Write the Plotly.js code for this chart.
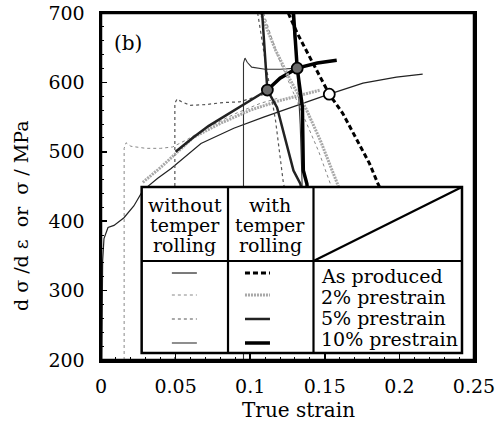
<!DOCTYPE html>
<html><head><meta charset="utf-8">
<script src="https://cdn.plot.ly/plotly-3.0.1.min.js"></script>
<style>body{margin:0;padding:0;background:#fff}#chart{width:501px;height:430px}</style>
</head><body><div id="chart"></div>
<script>
// ---- stress-strain curves (true strain, MPa) ----
const asProducedX = [0.0005, 0.0011, 0.002, 0.0047, 0.0087, 0.0154, 0.022, 0.028, 0.038, 0.047, 0.067, 0.089, 0.109, 0.1315, 0.1515, 0.1756, 0.198, 0.2156];
const asProducedY = [200, 343, 375, 391, 394, 405, 422, 444, 462, 476, 512, 534, 550, 567, 582, 599, 607.5, 612];
const pre2X = [0.0155, 0.0155, 0.0168, 0.02, 0.03, 0.04, 0.048, 0.058, 0.0715, 0.09, 0.107, 0.12];
const pre2Y = [200, 505, 513, 508, 505, 505, 507, 518, 535, 555, 570, 578];
const pre5X = [0.0495, 0.0495, 0.051, 0.054, 0.06, 0.07, 0.082, 0.093, 0.1065, 0.115];
const pre5Y = [200, 570, 576, 572, 567, 568, 571, 572, 581, 586];
const pre10X = [0.0955, 0.0955, 0.0965, 0.098, 0.101, 0.11, 0.12, 0.1315];
const pre10Y = [200, 628, 635, 629, 622, 619, 619, 620.5];
const tr2X = [0.028, 0.04, 0.062, 0.08, 0.1, 0.12, 0.147];
const tr2Y = [456, 477.5, 521, 541, 560, 574, 589];
const tr5X = [0.05, 0.062, 0.072, 0.082, 0.092, 0.1, 0.108, 0.1115];
const tr5Y = [500, 521, 537, 550, 563, 574, 585, 589];
const tr10X = [0.1115, 0.12, 0.1315, 0.145, 0.158];
const tr10Y = [589, 606, 620.5, 628, 632];
// ---- work-hardening rate curves dσ/dε (MPa) ----
const rateAsTRX = [0.1255, 0.1315, 0.140, 0.1469, 0.153, 0.162, 0.1716, 0.180, 0.1856, 0.19];
const rateAsTRY = [700, 671, 636, 607.5, 583, 555.5, 516.5, 483, 454, 435];
const rateTr2X = [0.107, 0.117, 0.127, 0.137, 0.147, 0.158, 0.161];
const rateTr2Y = [700, 646.5, 603, 564, 516.5, 454, 440];
const rateTr5X = [0.108, 0.1115, 0.118, 0.1235, 0.129, 0.1336, 0.135];
const rateTr5Y = [700, 589, 564, 516.5, 473, 454, 440];
const rateTr10X = [0.129, 0.1315, 0.135, 0.1356, 0.138, 0.1385];
const rateTr10Y = [700, 620.5, 564, 473, 454, 440];
const ratePre2X = [0.109, 0.118, 0.128, 0.138, 0.146, 0.1537, 0.156];
const ratePre2Y = [700, 640, 590, 540, 500, 454, 440];
const ratePre5X = [0.105, 0.110, 0.117, 0.1223, 0.124];
const ratePre5Y = [700, 632, 545, 454, 440];
const ratePre10X = [0.128, 0.1315, 0.1335, 0.1345, 0.135];
const ratePre10Y = [700, 620.5, 540, 454, 440];
// ---- intersection points ----
const filledPtX = [0.1115, 0.1315];
const filledPtY = [589, 620.5];
const openPtX = [0.153];
const openPtY = [583];
// ---- labels ----
const rowLabels = ['As produced', '2% prestrain', '5% prestrain', '10% prestrain'];
const headWithout = ['without', 'temper', 'rolling'];
const headWith = ['with', 'temper', 'rolling'];

const F = 'DejaVu Serif, Liberation Serif, serif';
const S = {
  thinSolid: {color: '#222', width: 1.2},
  dotLight: {color: '#888', width: 1, dash: 'dot'},
  dotDark: {color: '#555', width: 1.2, dash: 'dot'},
  thinSolid2: {color: '#333', width: 1.1},
  dashThick: {color: '#000', width: 3, dash: '5px,3px'},
  hatch: {color: '#a8a8a8', width: 3, dash: '2px,1px'},
  dark: {color: '#222', width: 2.5},
  thick: {color: '#000', width: 3.5}
};
function tr(x, y, line) { return {type: 'scatter', mode: 'lines', x: x, y: y, line: line, hoverinfo: 'skip', showlegend: false}; }
const data = [
  tr(asProducedX, asProducedY, S.thinSolid),
  tr(pre2X, pre2Y, S.dotLight),
  tr(pre5X, pre5Y, S.dotDark),
  tr(pre10X, pre10Y, S.thinSolid2),
  tr(tr2X, tr2Y, S.hatch),
  tr(tr5X, tr5Y, S.dark),
  tr(tr10X, tr10Y, S.thick),
  tr(ratePre2X, ratePre2Y, S.dotLight),
  tr(ratePre5X, ratePre5Y, S.dotDark),
  tr(ratePre10X, ratePre10Y, S.thinSolid2),
  tr(rateTr2X, rateTr2Y, S.hatch),
  tr(rateTr5X, rateTr5Y, S.dark),
  tr(rateTr10X, rateTr10Y, S.thick),
  tr(rateAsTRX, rateAsTRY, S.dashThick),
  {type: 'scatter', mode: 'markers', x: filledPtX, y: filledPtY, showlegend: false, hoverinfo: 'skip',
   marker: {size: 11, color: '#6a6a6a', line: {color: '#000', width: 1.8}}},
  {type: 'scatter', mode: 'markers', x: openPtX, y: openPtY, showlegend: false, hoverinfo: 'skip',
   marker: {size: 11, color: '#fff', line: {color: '#000', width: 1.8}}}
];

// table geometry in paper coords
const L = 0.109, C1 = 0.3405, C2 = 0.5697, R = 0.9678;
const T = 0.4986, M = 0.2853, B = 0.0202;
const shapes = [
  {type: 'rect', xref: 'paper', yref: 'paper', x0: 0, x1: 1, y0: 0, y1: 1, line: {color: '#000', width: 2.5}, layer: 'above'},
  {type: 'rect', xref: 'paper', yref: 'paper', x0: L, x1: R, y0: B, y1: T, fillcolor: '#fff', line: {color: '#000', width: 2.5}, layer: 'above'},
  {type: 'line', xref: 'paper', yref: 'paper', x0: C1, x1: C1, y0: B, y1: T, line: {color: '#000', width: 2.2}, layer: 'above'},
  {type: 'line', xref: 'paper', yref: 'paper', x0: C2, x1: C2, y0: B, y1: T, line: {color: '#000', width: 2.2}, layer: 'above'},
  {type: 'line', xref: 'paper', yref: 'paper', x0: L, x1: R, y0: M, y1: M, line: {color: '#000', width: 2.2}, layer: 'above'},
  {type: 'line', xref: 'paper', yref: 'paper', x0: C2, x1: R, y0: M, y1: T, line: {color: '#000', width: 2.2}, layer: 'above'}
];
const rowY = [0.2507, 0.1873, 0.1182, 0.0490];
const col1Styles = [S.thinSolid, S.dotLight, S.dotDark, S.thinSolid2];
const col2Styles = [S.dashThick, S.hatch, S.dark, S.thick];
rowY.forEach((y, i) => {
  shapes.push({type: 'line', xref: 'paper', yref: 'paper', x0: 0.190, x1: 0.257, y0: y, y1: y, line: col1Styles[i], layer: 'above'});
  shapes.push({type: 'line', xref: 'paper', yref: 'paper', x0: 0.386, x1: 0.453, y0: y, y1: y, line: col2Styles[i], layer: 'above'});
});

function pyToPaper(py) { return (360 - py) / 347; }
const annotations = [];
const headY = [205, 225, 245];
headWithout.forEach((t, i) => annotations.push({xref: 'paper', yref: 'paper', x: 0.2252, y: pyToPaper(headY[i]), text: t, showarrow: false, xanchor: 'center', yanchor: 'middle', font: {family: F, size: 19, color: '#000'}}));
headWith.forEach((t, i) => annotations.push({xref: 'paper', yref: 'paper', x: 0.4544, y: pyToPaper(headY[i]), text: t, showarrow: false, xanchor: 'center', yanchor: 'middle', font: {family: F, size: 19, color: '#000'}}));
const labY = [276, 297, 318, 339];
rowLabels.forEach((t, i) => annotations.push({xref: 'paper', yref: 'paper', x: 0.584, y: pyToPaper(labY[i]), text: t, showarrow: false, xanchor: 'left', yanchor: 'middle', font: {family: F, size: 19, color: '#000'}}));
annotations.push({xref: 'paper', yref: 'paper', x: (128 - 101) / 373, y: pyToPaper(43), text: '(b)', showarrow: false, xanchor: 'center', yanchor: 'middle', font: {family: F, size: 20, color: '#000'}});
annotations.push({xref: 'paper', yref: 'paper', x: (298 - 101) / 373, y: pyToPaper(410), text: 'True strain', showarrow: false, xanchor: 'center', yanchor: 'middle', font: {family: F, size: 20, color: '#000'}});
annotations.push({xref: 'paper', yref: 'paper', x: (21 - 101) / 373, y: pyToPaper(216), text: 'd σ /d ε  or  σ / MPa', textangle: -90, showarrow: false, xanchor: 'center', yanchor: 'middle', font: {family: F, size: 19, color: '#000'}});

const layout = {
  width: 501, height: 430,
  margin: {l: 101, r: 27, t: 13, b: 70},
  paper_bgcolor: '#fff', plot_bgcolor: '#fff',
  showlegend: false,
  font: {family: F, size: 19, color: '#000'},
  xaxis: {range: [0, 0.25], dtick: 0.05, tick0: 0, showgrid: false, zeroline: false,
          showline: true, mirror: true, linecolor: '#000', linewidth: 2.5,
          ticks: 'inside', ticklen: 6, tickwidth: 1.5, tickcolor: '#000',
          minor: {dtick: 0.01, ticks: 'inside', ticklen: 3, tickcolor: '#000', tickwidth: 1},
          ticklabelstandoff: 8, tickfont: {family: F, size: 19}},
  yaxis: {range: [200, 700], dtick: 100, tick0: 200, showgrid: false, zeroline: false,
          showline: true, mirror: true, linecolor: '#000', linewidth: 2.5,
          ticks: 'inside', ticklen: 6, tickwidth: 1.5, tickcolor: '#000',
          minor: {dtick: 20, ticks: 'inside', ticklen: 3, tickcolor: '#000', tickwidth: 1},
          ticklabelstandoff: 10, tickfont: {family: F, size: 19}},
  shapes: shapes,
  annotations: annotations
};
Plotly.newPlot('chart', data, layout, {displayModeBar: false, staticPlot: true});
</script></body></html>
